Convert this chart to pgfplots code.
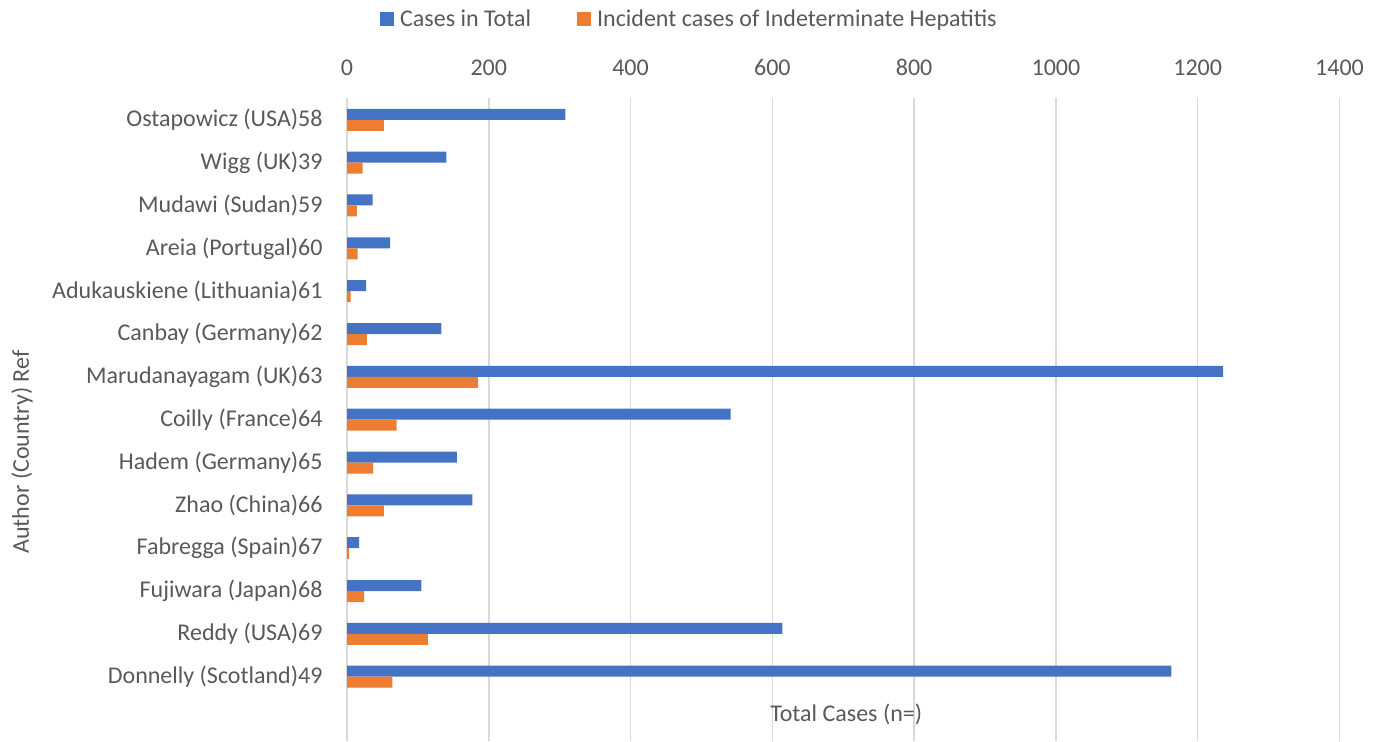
\documentclass[border=0pt]{standalone}
\usepackage{fontspec}
\setmainfont{Carlito}
\usepackage{pgfplots}
\pgfplotsset{compat=1.18}
\definecolor{barblue}{HTML}{4472C4}
\definecolor{barorange}{HTML}{ED7D31}
\definecolor{txtgray}{HTML}{595959}
\definecolor{gridgray}{HTML}{D9D9D9}
\begin{document}
\begin{tikzpicture}[font=\fontsize{24}{29}\selectfont]
\begin{axis}[
  at={(347pt,0pt)}, anchor=south west,
  scale only axis,
  width=992.5pt, height=642.6pt,
  xbar, bar width=11pt,
  xmin=0, xmax=1400, ymin=-1.5, ymax=13.5,
  enlargelimits=false,
  xtick={0,200,...,1400},
  xticklabel pos=upper,
  /pgf/number format/1000 sep={},
  /pgf/number format/assume math mode=true,
  ytick={0,...,13},
  yticklabels={Donnelly (Scotland)49, Reddy (USA)69, Fujiwara (Japan)68, Fabregga (Spain)67, Zhao (China)66, Hadem (Germany)65, Coilly (France)64, Marudanayagam (UK)63, Canbay (Germany)62, Adukauskiene (Lithuania)61, Areia (Portugal)60, Mudawi (Sudan)59, Wigg (UK)39, Ostapowicz (USA)58},
  axis line style={draw=none},
  tick style={draw=none},
  xmajorgrids, ymajorgrids=false,
  major grid style={draw=gridgray, line width=1.5pt},
  xticklabel style={font=\fontsize{24}{29}\selectfont, text=txtgray, anchor=south, inner sep=0pt, yshift=23pt},
  yticklabel style={font=\fontsize{24}{29}\selectfont, text=txtgray, anchor=east, inner sep=0pt, xshift=-20pt},
  xlabel={Total Cases (n=)},
  ylabel={Author (Country) Ref},
  every axis x label/.style={at={(axis description cs:0.503,0.042)}, anchor=center, font=\fontsize{24}{29}\selectfont, text=txtgray},
  every axis y label/.style={at={(axis description cs:-0.3275,0.4497)}, anchor=center, rotate=90, font=\fontsize{24}{29}\selectfont, text=txtgray},
  legend style={at={(axis description cs:0.347,1.1236)}, anchor=center, draw=none, fill=none,
    font=\fontsize{24}{29}\selectfont, text=txtgray, legend columns=2,
    nodes={inner sep=2pt, inner xsep=6pt},
    /tikz/every even column/.append style={column sep=40pt}},
  legend image code/.code={\fill[#1, draw=none] (0pt,-7pt) rectangle (14pt,7pt);},
]
\addplot[fill=barblue, draw=none, bar shift=5.5pt] coordinates {
(1163,0) (614,1) (105,2) (17,3) (177,4) (155,5) (541,6) (1236,7) (133,8) (27,9) (61,10) (36,11) (140,12) (308,13)};
\addlegendentry{Cases in Total}
\addplot[fill=barorange, draw=none, bar shift=-5.5pt] coordinates {
(64,0) (114,1) (24,2) (3,3) (52,4) (37,5) (70,6) (185,7) (28,8) (5,9) (15,10) (14,11) (22,12) (52,13)};
\addlegendentry{Incident cases of Indeterminate Hepatitis}
\end{axis}
\path[use as bounding box] (0,0) rectangle (1384pt,741pt);
\end{tikzpicture}
\end{document}
